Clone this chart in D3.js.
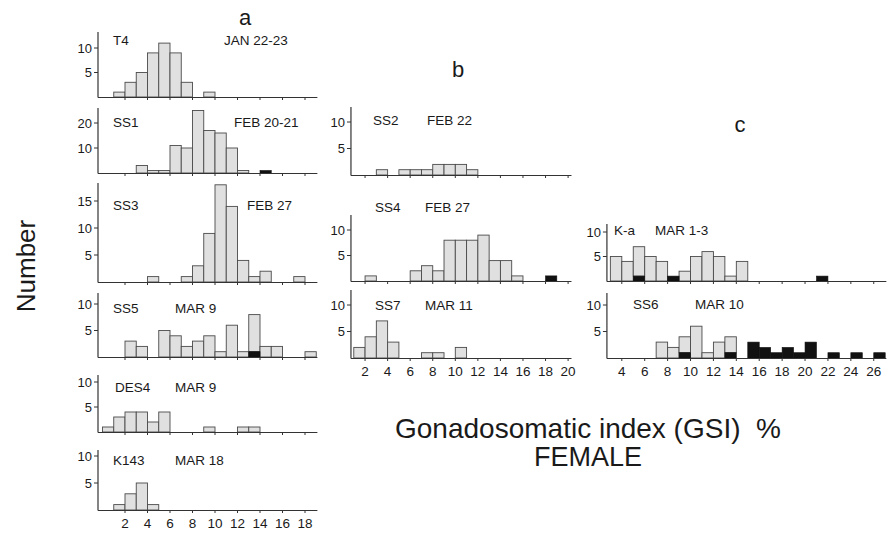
<!DOCTYPE html>
<html><head><meta charset="utf-8">
<script src="https://cdn.jsdelivr.net/npm/d3@7"></script>
<style>
body{margin:0;background:#fff;}
text{font-family:"Liberation Sans",Arial,sans-serif;fill:#1a1a1a;}
</style></head>
<body><svg id="c" width="892" height="539"></svg>
<script>
// counts per 1-unit GSI bin: index i = bin [i, i+1]
const t4Total   = [0,1,3,5,9,11,9,3,0,1];
const t4Black   = [];
const ss1Total  = [0,0,0,3,1,1,11,10,25,17,16,10,1,0,1];
const ss1Black  = [0,0,0,0,0,0,0,0,0,0,0,0,0,0,1];
const ss3Total  = [0,0,0,0,1,0,0,1,3,9,18,14,4,1,2,0,0,1];
const ss3Black  = [];
const ss5Total  = [0,0,3,2,0,5,4,2,3,4,1,6,1,8,2,2,0,0,1];
const ss5Black  = [0,0,0,0,0,0,0,0,0,0,0,0,0,1];
const des4Total = [1,3,4,4,2,4,0,0,0,1,0,0,1,1];
const des4Black = [];
const k143Total = [0,1,3,5,1];
const k143Black = [];
const ss2Total  = [0,0,0,1,0,1,1,1,2,2,2,1];
const ss2Black  = [];
const ss4Total  = [0,0,1,0,0,0,2,3,2,8,8,8,9,4,4,1,0,0,1];
const ss4Black  = [0,0,0,0,0,0,0,0,0,0,0,0,0,0,0,0,0,0,1];
const ss7Total  = [0,2,4,7,3,0,0,1,1,0,2];
const ss7Black  = [];
const kaTotal   = [0,0,0,5,4,7,5,4,1,2,5,6,5,1,4,0,0,0,0,0,0,1];
const kaBlack   = [0,0,0,0,0,1,0,0,1,0,0,0,0,0,0,0,0,0,0,0,0,1];
const ss6Total  = [0,0,0,0,0,0,0,3,2,4,6,1,3,4,0,3,2,1,2,1,3,0,1,0,1,0,1];
const ss6Black  = [0,0,0,0,0,0,0,0,0,1,0,0,0,1,0,3,2,1,2,1,3,0,1,0,1,0,1];

const ticksA = [2,4,6,8,10,12,14,16,18];
const ticksB = [2,4,6,8,10,12,14,16,18,20];
const ticksC = [4,6,8,10,12,14,16,18,20,22,24,26];

const svg = d3.select("#c");

const cols = {
  a:{x:d3.scaleLinear().domain([0,20]).range([102.5,327.5]), lo:-0.4, hi:19.1, ticks:ticksA},
  b:{x:d3.scaleLinear().domain([0,20]).range([342.5,568.1]), lo:0.75, hi:20.3, ticks:ticksB},
  c:{x:d3.scaleLinear().domain([0,27]).range([576,885.2]), lo:2.7, hi:27.1, ticks:ticksC}
};

const panels = [
  {col:"a", name:"T4",   date:"JAN 22-23", total:t4Total,  black:t4Black,  base:97,  ppu:4.9, yt:[5,10],     top:32,  ny:40,  nx:113, dx:224},
  {col:"a", name:"SS1",  date:"FEB 20-21", total:ss1Total, black:ss1Black, base:173, ppu:2.5, yt:[10,20],    top:108, ny:122, nx:113, dx:234},
  {col:"a", name:"SS3",  date:"FEB 27",    total:ss3Total, black:ss3Black, base:282, ppu:5.4, yt:[5,10,15],  top:183, ny:205, nx:113, dx:247},
  {col:"a", name:"SS5",  date:"MAR 9",     total:ss5Total, black:ss5Black, base:357, ppu:5.3, yt:[5,10],     top:293, ny:308, nx:113, dx:175},
  {col:"a", name:"DES4", date:"MAR 9",     total:des4Total,black:des4Black,base:432, ppu:5.0, yt:[5,10],     top:375, ny:387, nx:115, dx:175},
  {col:"a", name:"K143", date:"MAR 18",    total:k143Total,black:k143Black,base:510, ppu:5.4, yt:[5,10],     top:450, ny:460, nx:113, dx:175, labels:true},
  {col:"b", name:"SS2",  date:"FEB 22",    total:ss2Total, black:ss2Black, base:175, ppu:5.3, yt:[5,10],     top:107, ny:120, nx:373, dx:427},
  {col:"b", name:"SS4",  date:"FEB 27",    total:ss4Total, black:ss4Black, base:281, ppu:5.1, yt:[5,10],     top:215, ny:207, nx:375, dx:425},
  {col:"b", name:"SS7",  date:"MAR 11",    total:ss7Total, black:ss7Black, base:358, ppu:5.3, yt:[5,10],     top:290, ny:305, nx:375, dx:425, labels:true},
  {col:"c", name:"K-a",  date:"MAR 1-3",   total:kaTotal,  black:kaBlack,  base:281, ppu:4.9, yt:[5,10],     top:224, ny:230, nx:614, dx:655},
  {col:"c", name:"SS6",  date:"MAR 10",    total:ss6Total, black:ss6Black, base:358, ppu:5.3, yt:[5,10],     top:293, ny:304, nx:633, dx:695, labels:true}
];

panels.forEach(p => {
  const C = cols[p.col];
  const x = C.x;
  const ymax = d3.max(p.total.concat(p.yt)) + 2;
  const y = d3.scaleLinear().domain([0, ymax]).range([p.base, p.base - ymax*p.ppu]);
  const g = svg.append("g");
  const bins = p.total.map((v,i)=>({i, v, b: p.black[i]||0})).filter(d=>d.v>0);
  g.selectAll("rect.gr").data(bins.filter(d=>d.v>d.b)).join("rect")
    .attr("x", d=>x(d.i)).attr("width", d=>x(d.i+1)-x(d.i))
    .attr("y", d=>y(d.v)).attr("height", d=>y(d.b)-y(d.v))
    .attr("fill","#e0e0e0").attr("stroke","#4a4a4a").attr("stroke-width",0.9);
  g.selectAll("rect.bk").data(bins.filter(d=>d.b>0)).join("rect")
    .attr("x", d=>x(d.i)).attr("width", d=>x(d.i+1)-x(d.i))
    .attr("y", d=>y(d.b)).attr("height", d=>y(0)-y(d.b))
    .attr("fill","#111").attr("stroke","#111").attr("stroke-width",0.6);
  const xa = x(C.lo), xb = x(C.hi);
  g.append("line").attr("x1",xa).attr("x2",xb).attr("y1",p.base+0.5).attr("y2",p.base+0.5)
    .attr("stroke","#333").attr("stroke-width",1.2);
  g.selectAll("line.xt").data(C.ticks).join("line")
    .attr("x1",d=>x(d)).attr("x2",d=>x(d)).attr("y1",p.base).attr("y2",p.base+3)
    .attr("stroke","#333").attr("stroke-width",1);
  if (p.labels) {
    g.selectAll("text.xl").data(C.ticks).join("text")
      .attr("x",d=>x(d)).attr("y",p.base+18).attr("text-anchor","middle")
      .attr("font-size",13.5).text(d=>d);
  }
  g.append("line").attr("x1",xa).attr("x2",xa).attr("y1",p.top).attr("y2",p.base+0.5)
    .attr("stroke","#333").attr("stroke-width",1.2);
  g.selectAll("line.yt").data(p.yt).join("line")
    .attr("x1",xa-4).attr("x2",xa).attr("y1",d=>y(d)).attr("y2",d=>y(d))
    .attr("stroke","#333").attr("stroke-width",1);
  g.selectAll("text.yl").data(p.yt).join("text")
    .attr("x",xa-6).attr("y",d=>y(d)+4.5).attr("text-anchor","end")
    .attr("font-size",13).text(d=>d);
  g.append("text").attr("x",p.nx).attr("y",p.ny+5).attr("font-size",13.5).text(p.name);
  g.append("text").attr("x",p.dx).attr("y",p.ny+5).attr("font-size",13.5).text(p.date);
});

svg.append("text").attr("x",245).attr("y",25).attr("font-size",22).attr("text-anchor","middle").text("a");
svg.append("text").attr("x",458).attr("y",77).attr("font-size",22).attr("text-anchor","middle").text("b");
svg.append("text").attr("x",740).attr("y",132).attr("font-size",22).attr("text-anchor","middle").text("c");

svg.append("text").attr("transform","translate(35,266) rotate(-90)")
  .attr("text-anchor","middle").attr("font-size",26).text("Number");
svg.append("text").attr("x",588).attr("y",438).attr("text-anchor","middle")
  .attr("font-size",28).style("white-space","pre").text("Gonadosomatic index (GSI)  %");
svg.append("text").attr("x",588).attr("y",466).attr("text-anchor","middle")
  .attr("font-size",27).text("FEMALE");
</script></body></html>
